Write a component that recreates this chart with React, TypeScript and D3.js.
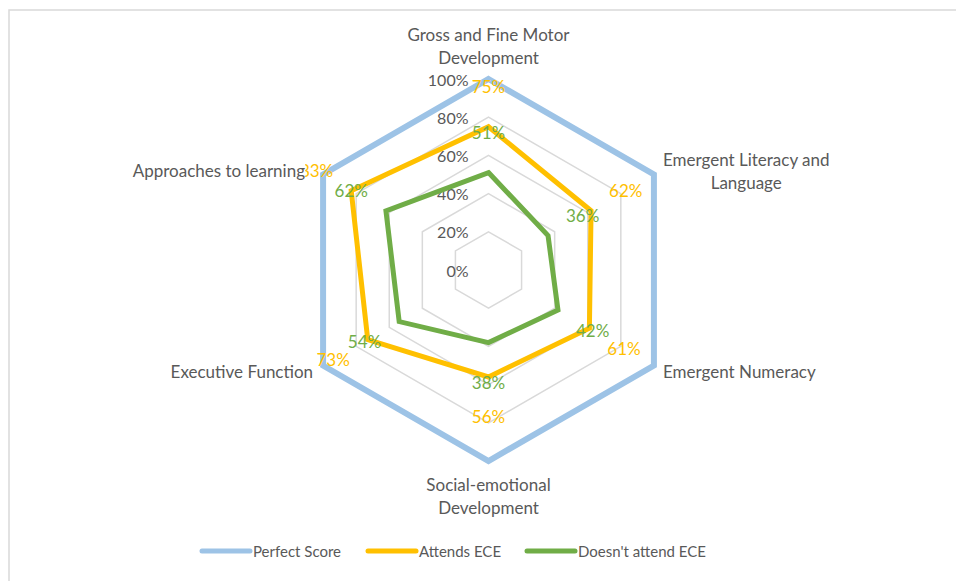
import React, { useEffect, useRef } from "react";
import * as d3 from "d3";

const categories: string[][] = [
  ["Gross and Fine Motor", "Development"],
  ["Emergent Literacy and", "Language"],
  ["Emergent Numeracy"],
  ["Social-emotional", "Development"],
  ["Executive Function"],
  ["Approaches to learning"],
];
const seriesNames = ["Perfect Score", "Attends ECE", "Doesn't attend ECE"];
const perfectScore = [100, 100, 100, 100, 100, 100];
const attendsECE = [75, 62, 61, 56, 73, 83];
const doesntAttendECE = [51, 36, 42, 38, 54, 62];
const tickValues = [0, 20, 40, 60, 80, 100];

const COLORS = ["#9DC3E6", "#FFC000", "#70AD47"];
const WIDTHS = [6, 5, 5];
const TEXT = "#595959";
const GRID = "#D9D9D9";
const FONT = "Lato, 'Open Sans', sans-serif";

export default function App() {
  const ref = useRef<SVGSVGElement | null>(null);
  useEffect(() => {
    const svg = d3.select(ref.current);
    svg.selectAll("*").remove();
    const cx = 488.5, cy = 270, R = 191;
    const n = categories.length;
    const r = d3.scaleLinear().domain([0, 100]).range([0, R]);
    const ang = (i: number) => (i * 2 * Math.PI) / n;
    const pt = (i: number, rad: number): [number, number] => [
      cx + rad * Math.sin(ang(i)),
      cy - rad * Math.cos(ang(i)),
    ];

    // chart border
    svg.append("rect").attr("x", 9).attr("y", 10).attr("width", 1200).attr("height", 1200)
      .attr("fill", "white").attr("stroke", GRID).attr("stroke-width", 1.5);

    const g = svg.append("g");
    const radial = d3.lineRadial<number>()
      .angle((_, i) => ang(i))
      .radius((d) => r(d))
      .curve(d3.curveLinearClosed);

    // gridlines
    tickValues.filter((t) => t > 0).forEach((t) => {
      g.append("path")
        .attr("transform", `translate(${cx},${cy})`)
        .attr("d", radial(categories.map(() => t)))
        .attr("fill", "none").attr("stroke", GRID).attr("stroke-width", 1.5);
    });

    // tick labels
    tickValues.forEach((t) => {
      g.append("text").attr("x", cx - 20).attr("y", cy - r(t))
        .attr("text-anchor", "end").attr("dominant-baseline", "central")
        .attr("font-family", FONT).attr("font-size", 16).attr("fill", TEXT)
        .text(`${t}%`);
    });

    const series = [perfectScore, attendsECE, doesntAttendECE];
    series.forEach((s, k) => {
      g.append("path")
        .attr("transform", `translate(${cx},${cy})`)
        .attr("d", radial(s))
        .attr("fill", "none").attr("stroke", COLORS[k]).attr("stroke-width", WIDTHS[k])
        .attr("stroke-linejoin", "miter");
    });

    // data labels (series 1 and 2)
    [1, 2].forEach((k) => {
      series[k].forEach((v, i) => {
        const [x, y] = pt(i, r(v) + 40);
        g.append("text").attr("x", x).attr("y", y)
          .attr("text-anchor", "middle").attr("dominant-baseline", "central")
          .attr("font-family", FONT).attr("font-size", 17).attr("fill", COLORS[k])
          .text(`${v}%`);
      });
    });

    // category labels
    const lh = 23;
    categories.forEach((lines, i) => {
      const a = ang(i);
      const [vx, vy] = pt(i, R);
      const lg = g.append("g");
      const bg = lg.append("rect").attr("fill", "white");
      const t = lg.append("text").attr("font-family", FONT).attr("font-size", 17)
        .attr("fill", TEXT).attr("text-anchor", "middle");
      lines.forEach((ln, j) => {
        t.append("tspan").attr("x", 0).attr("y", j * lh).attr("dominant-baseline", "central").text(ln);
      });
      const bb = (t.node() as SVGTextElement).getBBox();
      const bw = bb.width, bh = (lines.length - 1) * lh;
      const sx = Math.sin(a);
      const up = Math.cos(a) > 0;
      let ox = 0, oy = 0;
      if (Math.abs(sx) < 0.01) {
        ox = vx;
        oy = up ? vy - 22 - bh : vy + 23;
      } else if (sx > 0) {
        ox = vx + 9 + bw / 2;
        oy = vy + (up ? -4 : 6) - bh / 2;
      } else {
        ox = vx - (up ? 18 : 10) - bw / 2;
        oy = vy + (up ? -4 : 6) - bh / 2;
      }
      bg.attr("x", bb.x).attr("y", bb.y + 3).attr("width", bb.width).attr("height", bb.height - 6);
      lg.attr("transform", `translate(${ox},${oy})`);
    });

    // legend
    const ly = 551;
    const legendX = [202, 368, 527];
    seriesNames.forEach((name, k) => {
      const x0 = legendX[k];
      g.append("line").attr("x1", x0).attr("x2", x0 + 48).attr("y1", ly).attr("y2", ly)
        .attr("stroke", COLORS[k]).attr("stroke-width", 5).attr("stroke-linecap", "round");
      g.append("text").attr("x", x0 + 51).attr("y", ly).attr("dominant-baseline", "central")
        .attr("font-family", FONT).attr("font-size", 15).attr("fill", TEXT).text(name);
    });
  }, []);
  return (
    <svg ref={ref} width={956} height={581}
      style={{ position: "absolute", left: 0, top: 0, display: "block" }} />
  );
}
